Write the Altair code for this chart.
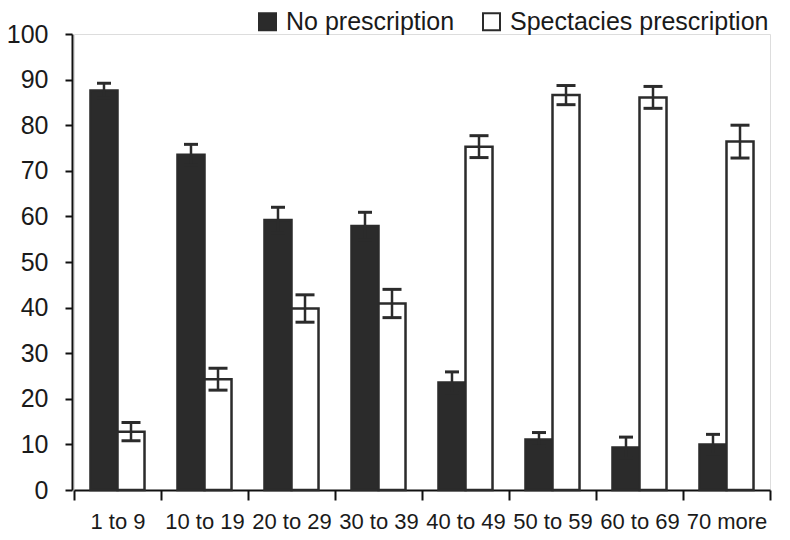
import altair as alt
import pandas as pd

categories = ["1 to 9", "10 to 19", "20 to 29", "30 to 39", "40 to 49", "50 to 59", "60 to 69", "70 more"]
series_names = ["No prescription", "Spectacies prescription"]
no_rx = [87.6, 73.5, 59.2, 57.9, 23.6, 11.1, 9.3, 10.0]
no_rx_err = [1.6, 2.3, 2.8, 3.0, 2.3, 1.5, 2.3, 2.2]
spec_rx = [12.8, 24.3, 39.8, 40.9, 75.3, 86.6, 86.1, 76.4]
spec_rx_err = [2.0, 2.4, 3.0, 3.1, 2.4, 2.1, 2.4, 3.6]
y_ticks = list(range(0, 101, 10))

rows = []
for vals, errs, name in [(no_rx, no_rx_err, series_names[0]), (spec_rx, spec_rx_err, series_names[1])]:
    for c, v, e in zip(categories, vals, errs):
        rows.append({"cat": c, "series": name, "value": v, "lo": v - e, "hi": v + e})
df = pd.DataFrame(rows)

DARK = "#2b2b2b"
FONT = "Liberation Sans"

x_enc = alt.X("cat:N", sort=categories, scale=alt.Scale(paddingInner=0, paddingOuter=0),
              axis=alt.Axis(title=None, labelAngle=0, labelFontSize=22, labelFont=FONT,
                            labelColor="#1a1a1a", tickBand="extent", tickSize=10, tickWidth=2,
                            tickColor="#111", domainColor="#111", domainWidth=2, labelPadding=11))
xo_enc = alt.XOffset("series:N", sort=series_names, scale=alt.Scale(paddingInner=0, paddingOuter=0.61))
y_scale = alt.Scale(domain=[0, 100], nice=False)

base = alt.Chart(df)

bars = base.mark_bar(strokeWidth=2.5).encode(
    x=x_enc,
    xOffset=xo_enc,
    y=alt.Y("value:Q", scale=y_scale,
            axis=alt.Axis(title=None, values=y_ticks, grid=False, labelFontSize=25, labelFont=FONT,
                          labelColor="#1a1a1a", tickSize=7, tickWidth=2, tickColor="#111",
                          domainColor="#111", domainWidth=2, labelPadding=17, offset=2)),
    fill=alt.Fill("series:N", sort=series_names,
                  scale=alt.Scale(domain=series_names, range=[DARK, "white"]),
                  legend=alt.Legend(orient="none", legendX=181, legendY=-25, direction="horizontal",
                                    title=None, symbolType="square", symbolSize=289,
                                    symbolStrokeColor=DARK, symbolStrokeWidth=2,
                                    labelFontSize=25, labelFont=FONT, labelColor="#1a1a1a",
                                    labelLimit=500, columnPadding=24, labelOffset=6)),
    stroke=alt.value(DARK),
)

rules = base.mark_rule(color=DARK, strokeWidth=2.5).encode(
    x=alt.X("cat:N", sort=categories),
    xOffset=alt.XOffset("series:N", sort=series_names),
    y=alt.Y("lo:Q", scale=y_scale),
    y2="hi:Q",
)


def caps(field, series, width):
    return base.transform_filter(alt.datum.series == series).mark_tick(
        color=DARK, thickness=3, opacity=1, size=width
    ).encode(
        x=alt.X("cat:N", sort=categories),
        xOffset=alt.XOffset("series:N", sort=series_names),
        y=alt.Y(f"{field}:Q", scale=y_scale),
    )


layers = [bars, rules,
          caps("hi", series_names[0], 14), caps("lo", series_names[0], 14),
          caps("hi", series_names[1], 19), caps("lo", series_names[1], 19)]

chart = alt.layer(*layers).properties(
    width=696, height=456,
    autosize=alt.AutoSizeParams(type="none"),
    padding={"left": 66, "top": 26, "right": 12, "bottom": 42},
).configure_view(stroke=None).configure(background="white")

chart.save("out.html", embed_options={"renderer": "svg", "actions": False})
